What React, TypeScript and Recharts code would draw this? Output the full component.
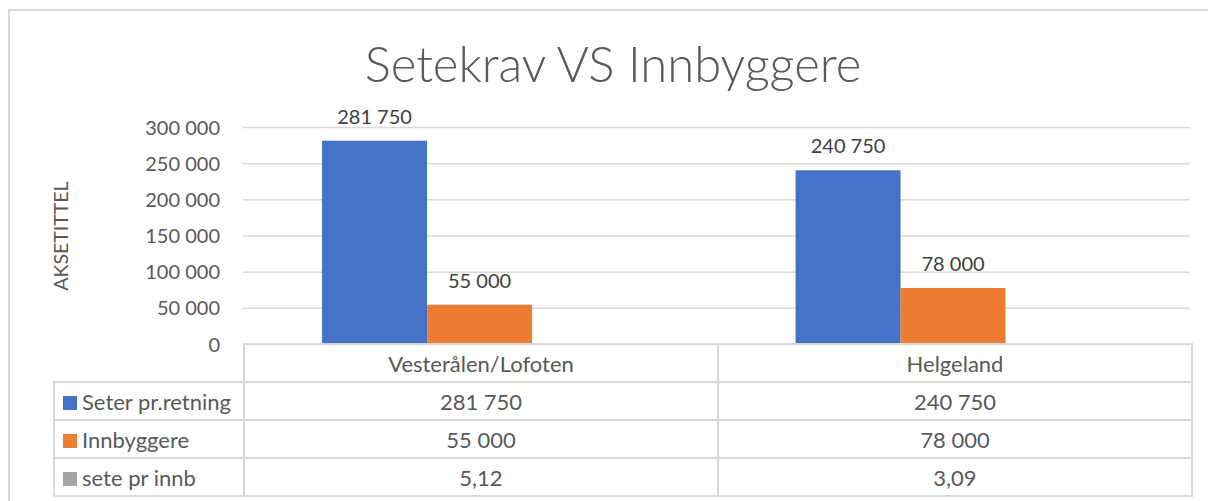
import { BarChart, Bar, XAxis, YAxis, CartesianGrid, LabelList } from 'recharts'

const categories = ['Vesterålen/Lofoten', 'Helgeland']
const seterPrRetning = [281750, 240750]
const innbyggere = [55000, 78000]
const setePrInnb = [5.12, 3.09]
const yTicks = [0, 50000, 100000, 150000, 200000, 250000, 300000]

const seriesNames = ['Seter pr.retning', 'Innbyggere', 'sete pr innb']
const seriesColors = ['#4472C4', '#ED7D31', '#A5A5A5']

const data = categories.map((name, i) => ({
  name,
  seter: seterPrRetning[i],
  innb: innbyggere[i],
  sete: setePrInnb[i],
}))

const fmt = (v: number) =>
  Number.isInteger(v)
    ? String(v).replace(/\B(?=(\d{3})+(?!\d))/g, ' ')
    : v.toFixed(2).replace('.', ',')

const tableRows = [seterPrRetning, innbyggere, setePrInnb]

const font = 'Lato, "Open Sans", sans-serif'
const grid = '#D9D9D9'

const AxisTitle = ({ viewBox }: any) => {
  const cx = viewBox.x + 9
  const cy = viewBox.y + viewBox.height / 2
  return (
    <text
      x={cx}
      y={cy}
      transform={`rotate(-90 ${cx} ${cy})`}
      textAnchor="middle"
      dominantBaseline="central"
      fill="#595959"
      fontSize={19.5}
      fontFamily={font}
    >
      AKSETITTEL
    </text>
  )
}

export default function App() {
  const cell: React.CSSProperties = {
    border: `2px solid ${grid}`,
    height: 36,
    padding: 0,
    textAlign: 'center',
    color: '#595959',
    fontSize: 22,
  }
  return (
    <div
      style={{
        position: 'absolute',
        left: 0,
        top: 0,
        width: 1208,
        height: 501,
        overflow: 'hidden',
        background: '#fff',
        fontFamily: font,
      }}
    >
      <div
        style={{
          position: 'absolute',
          left: 8,
          top: 9,
          width: 1400,
          height: 700,
          borderLeft: `2px solid ${grid}`,
          borderTop: `2px solid ${grid}`,
        }}
      />
      <div
        style={{
          position: 'absolute',
          left: 9,
          top: 34,
          width: 1208,
          textAlign: 'center',
          fontSize: 49,
          fontWeight: 300,
          color: '#595959',
          lineHeight: 'normal',
        }}
      >
        Setekrav VS Innbyggere
      </div>
      <div style={{ position: 'absolute', left: 0, top: 0 }}>
        <BarChart
          width={1208}
          height={501}
          data={data}
          margin={{ top: 127.5, right: 18, bottom: 156.5, left: 51 }}
          barCategoryGap="16.7%"
          barGap={0}
        >
          <CartesianGrid vertical={false} stroke={grid} strokeWidth={1.5} />
          <XAxis dataKey="name" hide />
          <YAxis
            width={192}
            domain={[0, 300000]}
            ticks={yTicks}
            tickFormatter={fmt}
            axisLine={false}
            tickLine={false}
            tickMargin={17}
            tick={{ fill: '#595959', fontSize: 20, fontFamily: font }}
            label={<AxisTitle />}
          />
          <Bar dataKey="seter" fill={seriesColors[0]} isAnimationActive={false}>
            <LabelList
              dataKey="seter"
              position="top"
              offset={17}
              formatter={(v: any) => fmt(v)}
              fill="#404040"
              fontSize={20}
              fontFamily={font}
            />
          </Bar>
          <Bar dataKey="innb" fill={seriesColors[1]} isAnimationActive={false}>
            <LabelList
              dataKey="innb"
              position="top"
              offset={17}
              formatter={(v: any) => fmt(v)}
              fill="#404040"
              fontSize={20}
              fontFamily={font}
            />
          </Bar>
          <Bar dataKey="sete" fill={seriesColors[2]} isAnimationActive={false} />
        </BarChart>
      </div>
      <table
        style={{
          position: 'absolute',
          left: 53,
          top: 343,
          borderCollapse: 'collapse',
          tableLayout: 'fixed',
          width: 1138,
          fontFamily: font,
        }}
      >
        <colgroup>
          <col style={{ width: 190 }} />
          <col style={{ width: 474 }} />
          <col style={{ width: 474 }} />
        </colgroup>
        <tbody>
          <tr>
            <td style={{ ...cell, border: 'none' }} />
            {categories.map((c) => (
              <td key={c} style={cell}>
                {c}
              </td>
            ))}
          </tr>
          {tableRows.map((row, r) => (
            <tr key={seriesNames[r]}>
              <td style={{ ...cell, textAlign: 'left', whiteSpace: 'nowrap' }}>
                <span
                  style={{
                    display: 'inline-block',
                    width: 14,
                    height: 14,
                    background: seriesColors[r],
                    marginLeft: 8,
                    marginRight: 5,
                  }}
                />
                {seriesNames[r]}
              </td>
              {row.map((v, i) => (
                <td key={i} style={cell}>
                  {fmt(v)}
                </td>
              ))}
            </tr>
          ))}
        </tbody>
      </table>
    </div>
  )
}
